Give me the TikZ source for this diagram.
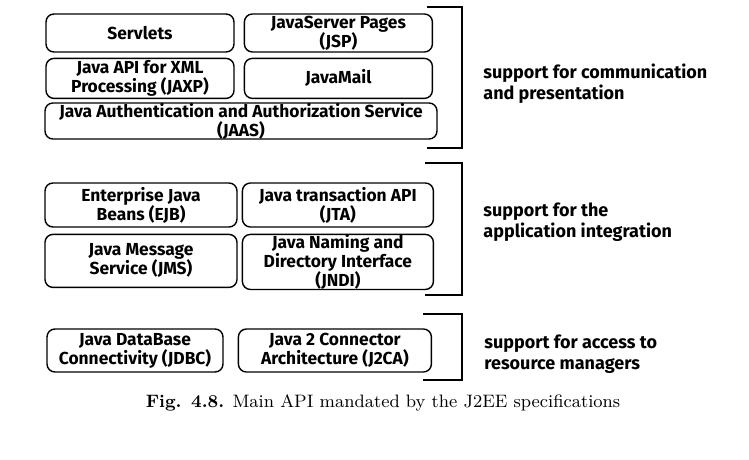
\documentclass[tikz,border=0pt]{standalone}
\usepackage{fontspec}
\usetikzlibrary{positioning}
\newfontfamily\comicfont{Fira Sans}
\newcommand{\apifont}{\comicfont\bfseries\fontsize{8.7}{9.5}\selectfont}
\newcommand{\supportfont}{\comicfont\bfseries\fontsize{9}{10.5}\selectfont}

\begin{document}
\begin{tikzpicture}[
    x=0.5pt, y=-0.5pt,
    apibox/.style={rectangle, draw, line width=0.7pt, rounded corners=4pt, align=center, inner sep=0pt, font=\apifont},
    toprow/.style={apibox, minimum width=94pt, minimum height=19pt},
    midrow/.style={apibox, minimum width=96pt, minimum height=22pt},
    lowrow/.style={apibox, minimum height=21.5pt},
    bracket/.style={line width=1pt},
    support/.style={anchor=west, align=left, inner sep=0pt, font=\supportfont}
]
    \useasboundingbox (0,0) rectangle (749,460);

    % Communication and presentation
    \node[toprow] (servlets) at (140,33) {Servlets};
    \node[toprow, right=4.5pt of servlets] (jsp) {JavaServer Pages\\(JSP)};
    \node[toprow, minimum height=20pt, below=2.5pt of servlets] (jaxp) {Java API for XML\\Processing (JAXP)};
    \node[toprow, minimum height=20pt, below=2.5pt of jsp] (javamail) {JavaMail};
    \node[apibox, minimum width=196pt, minimum height=18pt] (jaas) at (241,121) {Java Authentication and Authorization Service\\(JAAS)};

    % Application integration
    \node[midrow] (ejb) at (141,205) {Enterprise Java\\Beans (EJB)};
    \node[midrow, minimum width=95.5pt, right=2pt of ejb] (jta) {Java transaction API\\(JTA)};
    \node[midrow, minimum height=26.5pt, below=3pt of ejb] (jms) {Java Message\\Service (JMS)};
    \node[midrow, minimum width=95.5pt, minimum height=26.5pt, below=3pt of jta] (jndi) {Java Naming and\\Directory Interface\\(JNDI)};

    % Resource managers
    \node[lowrow, minimum width=88pt] (jdbc) at (135,350.5) {Java DataBase\\Connectivity (JDBC)};
    \node[lowrow, minimum width=96.5pt, right=7pt of jdbc] (j2ca) {Java 2 Connector\\Architecture (J2CA)};

    % Brackets
    \draw[bracket] (427,7) -| (462,148) -- (427,148);
    \draw[bracket] (425,163) -| (462,295) -- (425,295);
    \draw[bracket] (423,314) -| (462,380) -- (423,380);

    % Labels
    \node[support] (commlabel) at (483,83.5) {support for communication\\and presentation};
    \node[support] (intlabel) at (483,222.5) {support for the\\application integration};
    \node[support] (reslabel) at (484,354) {support for access to\\resource managers};

    % Caption
    \node[font=\fontsize{9}{11}\selectfont] (caption) at (383,403) {\textbf{Fig. 4.8.} Main API mandated by the J2EE specifications};
\end{tikzpicture}
\end{document}
